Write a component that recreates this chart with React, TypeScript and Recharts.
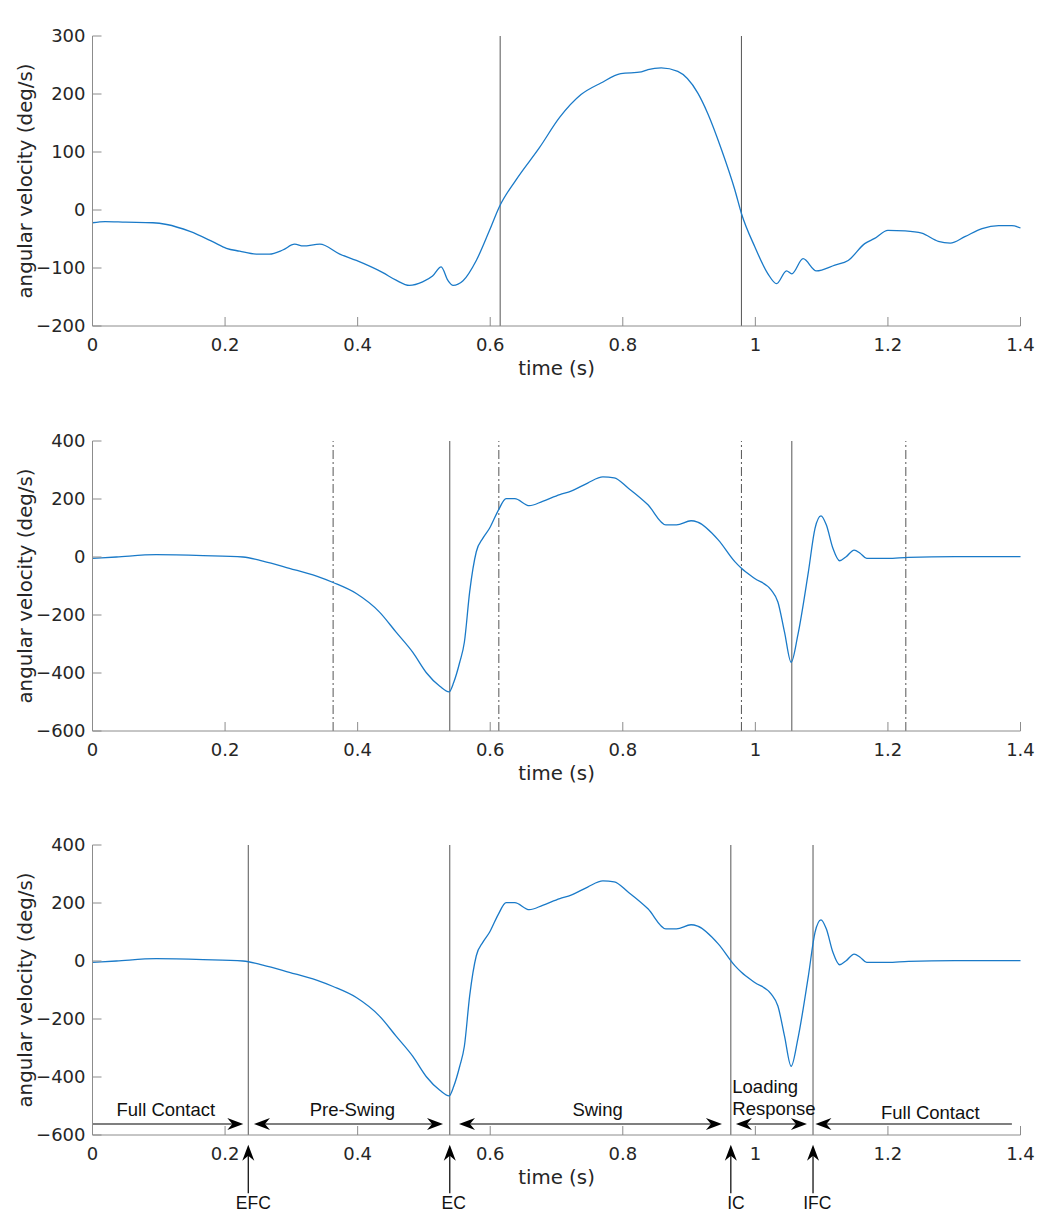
import React from 'react';
import { LineChart, Line, XAxis, YAxis, ReferenceLine, ReferenceDot } from 'recharts';

// axis ticks
const timeTicks = [0, 0.2, 0.4, 0.6, 0.8, 1, 1.2, 1.4];
const shankTicks = [-200, -100, 0, 100, 200, 300];
const footTicks = [-600, -400, -200, 0, 200, 400];

// shank y-axis angular velocity (deg/s)
const shankTime = [
  0, 0.019, 0.05, 0.091, 0.112, 0.147, 0.182, 0.202, 0.222, 0.247, 0.267, 0.287, 0.305, 0.318, 0.343,
  0.373, 0.398, 0.438, 0.458, 0.478, 0.498, 0.513, 0.526, 0.536, 0.544, 0.559, 0.579, 0.599, 0.614,
  0.639, 0.674, 0.705, 0.737, 0.767, 0.797, 0.828, 0.838, 0.858, 0.883, 0.913, 0.928, 0.949, 0.969,
  0.979, 0.999, 1.019, 1.032, 1.047, 1.055, 1.072, 1.092, 1.12, 1.14, 1.165, 1.18, 1.2, 1.226, 1.251,
  1.276, 1.294, 1.316, 1.342, 1.367, 1.387, 1.4,
];
const shankVel = [
  -22, -20, -21, -22, -25, -37, -55, -66, -71, -76, -76, -69, -59, -62, -59,
  -76, -87, -108, -121, -130, -124, -114, -98, -121, -130, -122, -87, -35, 6,
  52, 107, 160, 199, 219, 235, 238, 242, 245, 239, 202, 167, 104, 35,
  -6, -63, -110, -127, -105, -110, -84, -105, -95, -87, -58, -49, -35, -36, -40,
  -54, -57, -46, -32, -27, -27, -31,
];

// foot y-axis angular velocity (deg/s), same signal in panels 2 and 3
const footTime = [
  0, 0.036, 0.096, 0.167, 0.227, 0.257, 0.297, 0.338, 0.363, 0.398, 0.433, 0.458, 0.483, 0.504, 0.524,
  0.538, 0.545, 0.554, 0.561, 0.569, 0.579, 0.589, 0.599, 0.612, 0.624, 0.637, 0.659, 0.679, 0.705,
  0.722, 0.747, 0.77, 0.787, 0.808, 0.838, 0.865, 0.881, 0.903, 0.913, 0.944, 0.969, 0.979, 0.999,
  1.024, 1.034, 1.044, 1.054, 1.064, 1.08, 1.09, 1.099, 1.107, 1.117, 1.127, 1.137, 1.149, 1.158,
  1.168, 1.2, 1.231, 1.301, 1.4,
];
const footVel = [
  -5, 0, 8, 5, 0, -14, -39, -66, -88, -126, -190, -259, -328, -400, -446,
  -465, -432, -363, -294, -120, 18, 65, 99, 160, 201, 201, 177, 192, 215,
  227, 255, 276, 273, 238, 180, 111, 111, 125, 120, 59, -16, -39, -74,
  -114, -155, -259, -363, -270, -51, 99, 142, 111, 30, -13, 1, 24, 13,
  -5, -5, -1, 1, 1,
];

// event times (s)
const shankZeroCrossings = [0.615, 0.979];
const footPeaks = [0.539, 1.055];
const searchWindows = [0.363, 0.613, 0.979, 1.227];
const gaitEvents = [0.235, 0.539, 0.963, 1.087];
const gaitEventNames = ['EFC', 'EC', 'IC', 'IFC'];
const gaitEventLabelTimes = [0.2426, 0.5449, 0.9707, 1.0934];

// gait phase arrows in the bottom panel: [from, to, double headed]
const phaseFrom = [0, 0.2436, 0.5529, 0.9707, 1.387];
const phaseTo = [0.2275, 0.5288, 0.9496, 1.0778, 1.0906];
const phaseDouble = [false, true, true, true, false];
const phaseNames = ['Full Contact', 'Pre-Swing', 'Swing', 'Loading', 'Response', 'Full Contact'];
const phaseNameTimes = [0.1106, 0.392, 0.762, 0.9652, 0.9652, 1.264];
const phaseNameLevels = [-533, -535, -535, -456, -531, -546];
const phaseArrowLevel = -562;

const shankData = shankTime.map((t, i) => ({ t, v: shankVel[i] }));
const footData = footTime.map((t, i) => ({ t, v: footVel[i] }));

const CHART_W = 1041;
const CHART_H = 405;
const MARGIN = { top: 36, right: 20.5, bottom: 19, left: 0 };
const BOX = '#8c8c8c';
const TEXT = '#262626';
const EVENT = '#555555';
const BLUE = '#1a7ac8';
const TICK_FONT = { fontSize: 18, fill: TEXT, fontFamily: 'DejaVu Sans' };
const ANNOT_FONT = 'Liberation Sans, Arial, sans-serif';

const fmtY = (v: number) => (v < 0 ? `\u2212${-v}` : `${v}`);

const arrowHead = (tx: number, ty: number, ux: number, uy: number) => {
  const L = 16, w = 6, n = 11;
  const px = -uy, py = ux;
  const pts = [
    [tx, ty],
    [tx - L * ux + w * px, ty - L * uy + w * py],
    [tx - n * ux, ty - n * uy],
    [tx - L * ux - w * px, ty - L * uy - w * py],
  ];
  return <polygon points={pts.map(p => p.join(',')).join(' ')} fill="#000" />;
};

const makeArrow = (double: boolean) => (p: any) => {
  const { x1, y1, x2, y2 } = p;
  const len = Math.hypot(x2 - x1, y2 - y1) || 1;
  const ux = (x2 - x1) / len, uy = (y2 - y1) / len;
  const sx = double ? x1 + 10 * ux : x1;
  const sy = double ? y1 + 10 * uy : y1;
  return (
    <g>
      <line x1={sx} y1={sy} x2={x2 - 10 * ux} y2={y2 - 10 * uy} stroke="#000" strokeWidth={1.2} />
      {arrowHead(x2, y2, ux, uy)}
      {double && arrowHead(x1, y1, -ux, -uy)}
    </g>
  );
};

const textShape = (label: string, anchor: string, size: number) => (p: any) => (
  <text x={p.cx} y={p.cy} textAnchor={anchor} fontFamily={ANNOT_FONT} fontSize={size} fill="#111">
    {label}
  </text>
);

const titleLabel = (title: string) => (props: any) => {
  const vb = props.viewBox || { x: 92.5, y: 36, width: 928 };
  return (
    <text x={vb.x + vb.width / 2} y={vb.y - 9.5} textAnchor="middle"
      fontFamily="DejaVu Sans" fontWeight="bold" fontSize={19} fill="#000">
      {title}
    </text>
  );
};

const yLabel = (props: any) => {
  const vb = props.viewBox || { x: 0, y: 36, height: 290 };
  const cx = 25, cy = vb.y + vb.height / 2;
  return (
    <text x={cx} y={cy} transform={`rotate(-90 ${cx} ${cy})`} textAnchor="middle" dominantBaseline="central"
      fontFamily="DejaVu Sans" fontSize={19.8} fill={TEXT}>
      angular velocity (deg/s)
    </text>
  );
};

const xLabel = (props: any) => {
  const vb = props.viewBox || { x: 92.5, y: 326, width: 928 };
  return (
    <text x={vb.x + vb.width / 2} y={vb.y + 49} textAnchor="middle" fontFamily="DejaVu Sans" fontSize={19.8} fill={TEXT}>
      time (s)
    </text>
  );
};

type PanelProps = {
  top: number;
  title: string;
  data: { t: number; v: number }[];
  yDomain: [number, number];
  yTicks: number[];
  children?: React.ReactNode;
};

const Panel: React.FC<PanelProps> = ({ top, title, data, yDomain, yTicks, children }) => (
  <div style={{ position: 'absolute', left: 0, top }}>
    <LineChart width={CHART_W} height={CHART_H} data={data} margin={MARGIN}>
      <XAxis xAxisId="b" dataKey="t" type="number" domain={[0, 1.4]} ticks={timeTicks} interval={0}
        height={60} tickSize={-9} tickMargin={21} tick={TICK_FONT}
        axisLine={{ stroke: BOX }} tickLine={{ stroke: BOX }} label={xLabel} />
      <XAxis xAxisId="t" dataKey="t" type="number" orientation="top" domain={[0, 1.4]} ticks={timeTicks}
        interval={0} height={0} tickSize={-9} tickFormatter={() => ''}
        axisLine={{ stroke: BOX }} tickLine={{ stroke: BOX }} label={titleLabel(title)} />
      <YAxis yAxisId="l" type="number" domain={yDomain} ticks={yTicks} interval={0} width={92.5}
        tickSize={-9} tickMargin={16} tick={TICK_FONT} tickFormatter={fmtY}
        axisLine={{ stroke: BOX }} tickLine={{ stroke: BOX }} label={yLabel} />
      <YAxis yAxisId="r" type="number" orientation="right" domain={yDomain} ticks={yTicks} interval={0}
        width={0} tickSize={-9} tickFormatter={() => ''}
        axisLine={{ stroke: BOX }} tickLine={{ stroke: BOX }} />
      {children}
      <Line xAxisId="b" yAxisId="l" type="monotone" dataKey="v" stroke={BLUE} strokeWidth={1.3}
        dot={false} activeDot={false} isAnimationActive={false} />
    </LineChart>
  </div>
);

const App: React.FC = () => (
  <div style={{ position: 'absolute', left: 0, top: 0, width: CHART_W, height: 1214, background: '#fff' }}>
    <Panel top={0} title="Zero crossings of shank y-axis angular velocity" data={shankData}
      yDomain={[-200, 300]} yTicks={shankTicks}>
      {shankZeroCrossings.map(x => (
        <ReferenceLine key={`z${x}`} xAxisId="b" yAxisId="l" x={x} stroke={EVENT} strokeWidth={1} />
      ))}
    </Panel>

    <Panel top={405} title="Search windows and peaks of foot y-axis angular velocity" data={footData}
      yDomain={[-600, 400]} yTicks={footTicks}>
      {searchWindows.map(x => (
        <ReferenceLine key={`w${x}`} xAxisId="b" yAxisId="l" x={x} stroke={EVENT} strokeWidth={1}
          strokeDasharray="9 3 2 3" />
      ))}
      {footPeaks.map(x => (
        <ReferenceLine key={`p${x}`} xAxisId="b" yAxisId="l" x={x} stroke={EVENT} strokeWidth={1} />
      ))}
    </Panel>

    <Panel top={809} title="Gait events of foot y-axis angular velocity" data={footData}
      yDomain={[-600, 400]} yTicks={footTicks}>
      {gaitEvents.map(x => (
        <ReferenceLine key={`e${x}`} xAxisId="b" yAxisId="l" x={x} stroke={EVENT} strokeWidth={1} />
      ))}
      {phaseFrom.map((x, i) => (
        <ReferenceLine key={`a${i}`} xAxisId="b" yAxisId="l" ifOverflow="visible"
          segment={[{ x, y: phaseArrowLevel }, { x: phaseTo[i], y: phaseArrowLevel }]}
          shape={makeArrow(phaseDouble[i])} />
      ))}
      {phaseNames.map((name, i) => (
        <ReferenceDot key={`n${i}`} xAxisId="b" yAxisId="l" ifOverflow="visible" r={0}
          x={phaseNameTimes[i]} y={phaseNameLevels[i]}
          shape={textShape(name, i === 3 || i === 4 ? 'start' : 'middle', 18.5)} />
      ))}
      {gaitEvents.map((x, i) => (
        <ReferenceLine key={`u${i}`} xAxisId="b" yAxisId="l" ifOverflow="visible"
          segment={[{ x, y: -801 }, { x, y: -634 }]} shape={makeArrow(false)} />
      ))}
      {gaitEventNames.map((name, i) => (
        <ReferenceDot key={`g${i}`} xAxisId="b" yAxisId="l" ifOverflow="visible" r={0}
          x={gaitEventLabelTimes[i]} y={-854} shape={textShape(name, 'middle', 17.5)} />
      ))}
    </Panel>
  </div>
);

export default App;
